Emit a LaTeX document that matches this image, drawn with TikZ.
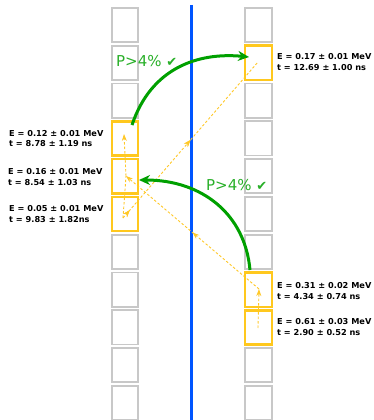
\documentclass[tikz,border=0pt]{standalone}
\usepackage{fontspec}
\setmainfont{DejaVu Sans}
\usetikzlibrary{arrows.meta,decorations.markings}
\definecolor{cellgray}{RGB}{200,200,200}
\definecolor{hitgold}{RGB}{255,200,30}
\definecolor{trackgold}{RGB}{255,200,40}
\definecolor{beamblue}{RGB}{0,85,255}
\definecolor{arrgreen}{RGB}{0,160,0}
\definecolor{txtgreen}{RGB}{40,175,40}
\tikzset{
  cell/.style={draw=cellgray, line width=1.8pt, fill=white, minimum width=26.5pt, minimum height=34.2pt, inner sep=0pt, outer sep=0pt},
  hit/.style={cell, draw=hitgold, line width=2.4pt, fill=none},
  beam/.style={draw=beamblue, line width=2.8pt},
  track/.style={draw=trackgold, line width=0.9pt, dash pattern=on 2.5pt off 2pt},
  ttip/.style={-{Stealth[length=7pt,width=5pt]}},
  midarrow/.style={postaction={decorate}, decoration={markings, mark=at position #1 with {\arrow{Stealth[length=7pt,width=5pt]}}}},
  garrow/.style={draw=arrgreen, line width=3pt, -{Stealth[length=11pt,width=10pt]}},
  lab/.style={font=\fontsize{8.2}{10.5}\selectfont\bfseries, align=left, inner sep=0pt, anchor=west},
  pnote/.style={text=txtgreen, font=\fontsize{15}{18}\selectfont, inner sep=0pt, anchor=west}
}
\begin{document}
\begin{tikzpicture}[x=1pt,y=-1pt]
\useasboundingbox (0,0) rectangle (374,420);
% detector cells
\foreach \i in {0,1,2,6,7,8,9,10} \node[cell] (L\i) at (125,25+37.8*\i) {};
\foreach \i in {0,2,3,4,5,6,9,10} \node[cell] (R\i) at (258.5,25+37.8*\i) {};
\foreach \i in {3,4,5} \node[cell] (L\i) at (125,25+37.8*\i) {};
\foreach \i in {1,7,8} \node[cell] (R\i) at (258.5,25+37.8*\i) {};
\foreach \i in {3,4,5} \node[hit] (HL\i) at (L\i) {};
\foreach \i in {1,7,8} \node[hit] (HR\i) at (R\i) {};
% beam line
\coordinate (btop) at (191.5,5);
\coordinate (bbot) at (191.5,422);
\draw[beam] (btop) -- (bbot);
% track points
\coordinate (pR8) at (258,328);
\coordinate (pR7) at (259,289);
\coordinate (pL4) at (126,176);
\coordinate (pL3) at (124,134);
\coordinate (pL5) at (123,218);
\coordinate (pR1) at (258,62);
\draw[track, ttip] (pR8) -- (pR7);
\draw[track, ttip, midarrow=0.5] (pR7) -- (pL4);
\draw[track, ttip] (pL4) -- (pL3);
\draw[track] (pL5) -- (pL4);
\draw[track, midarrow=0.5, midarrow=0.05] (pL5) -- (pR1);
% green arrows
\coordinate (gA) at (132,125);
\coordinate (gB) at (249,57);
\coordinate (gC) at (250,270);
\coordinate (gD) at (139,180);
\draw[garrow] (gA) .. controls (151,68) and (198,52) .. (gB);
\draw[garrow] (gC) .. controls (245,214) and (202,180) .. (gD);
\node[pnote] (P1) at (116,61) {P>4\% {\fontsize{13}{13}\selectfont ✔}};
\node[pnote] (P2) at (206,185) {P>4\% {\fontsize{13}{13}\selectfont ✔}};
% labels
\node[lab] (tL3) at (9,138.5) {E = 0.12 ± 0.01 MeV\\t = 8.78 ± 1.19 ns};
\node[lab] (tL4) at (8,177) {E = 0.16 ± 0.01 MeV\\t = 8.54 ± 1.03 ns};
\node[lab] (tL5) at (9,214) {E = 0.05 ± 0.01 MeV\\t = 9.83 ± 1.82ns};
\node[lab] (tR1) at (277,62) {E = 0.17 ± 0.01 MeV\\t = 12.69 ± 1.00 ns};
\node[lab] (tR7) at (277,291) {E = 0.31 ± 0.02 MeV\\t = 4.34 ± 0.74 ns};
\node[lab] (tR8) at (277,327) {E = 0.61 ± 0.03 MeV\\t = 2.90 ± 0.52 ns};
\end{tikzpicture}
\end{document}
